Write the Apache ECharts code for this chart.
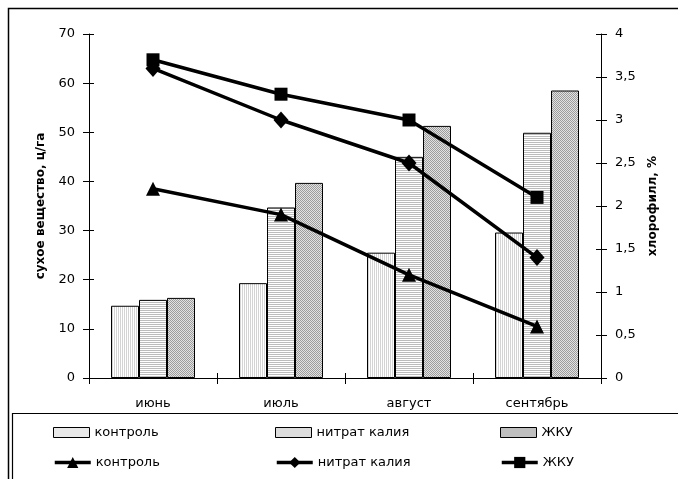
<!DOCTYPE html>
<html>
<head>
<meta charset="utf-8">
<script src="https://cdn.jsdelivr.net/npm/echarts@6/dist/echarts.min.js"></script>
<style>
  html, body { margin: 0; padding: 0; background: #fff; }
  #chart { width: 678px; height: 479px; }
</style>
</head>
<body>
<div id="chart"></div>
<script>
// Months
const months = ['июнь', 'июль', 'август', 'сентябрь'];

// Dry matter, c/ha (bars, left axis)
const dryControl = [14.7, 19.3, 25.5, 29.6];
const dryNitrate = [15.9, 34.7, 45.0, 49.9];
const dryZhku    = [16.3, 39.7, 51.3, 58.5];

// Chlorophyll, % (lines, right axis)
const chlControl = [2.2, 1.9, 1.2, 0.6];
const chlNitrate = [3.6, 3.0, 2.5, 1.4];
const chlZhku    = [3.7, 3.3, 3.0, 2.1];

// Axis ranges
const leftTicks = { min: 0, max: 70, interval: 10 };
const rightTicks = { min: 0, max: 4, interval: 0.5 };

const FONT = 'DejaVu Sans';

// Small repeating fills for the bars
function pattern(w, h, draw) {
  const c = document.createElement('canvas');
  c.width = w; c.height = h;
  const ctx = c.getContext('2d');
  ctx.fillStyle = '#ffffff';
  ctx.fillRect(0, 0, w, h);
  draw(ctx);
  return { image: c, repeat: 'repeat' };
}
const fillControl = pattern(2, 2, ctx => {
  ctx.fillStyle = '#d4d4d4';
  ctx.fillRect(0, 0, 1, 2);
});
const fillNitrate = pattern(2, 2, ctx => {
  ctx.fillStyle = '#bcbcbc';
  ctx.fillRect(0, 0, 2, 1);
});
const fillZhku = pattern(2, 2, ctx => {
  ctx.fillStyle = '#e2e2e2';
  ctx.fillRect(0, 0, 2, 2);
  ctx.fillStyle = '#9c9c9c';
  ctx.fillRect(0, 0, 1, 1);
  ctx.fillRect(1, 1, 1, 1);
});

function barSeries(name, data, fill) {
  return {
    name, type: 'bar', data, xAxisIndex: 0, yAxisIndex: 0,
    barWidth: 28, barGap: '0%',
    itemStyle: { color: fill, borderColor: '#000', borderWidth: 1 },
    emphasis: { disabled: true }
  };
}
function lineSeries(name, data, symbol, size) {
  return {
    name, type: 'line', data, xAxisIndex: 0, yAxisIndex: 1,
    symbol, symbolSize: size, z: 5,
    lineStyle: { color: '#000', width: 3.5 },
    itemStyle: { color: '#000', borderColor: '#000', borderWidth: 0 },
    emphasis: { disabled: true }
  };
}

// Separate legend boxes so the columns line up
function legendAt(name, left, top, item, h) {
  return {
    data: [Object.assign({ name }, item)], left, top, orient: 'horizontal',
    itemWidth: 36, itemHeight: h, itemGap: 0,
    selectedMode: false,
    lineStyle: { width: 3.5 },
    textStyle: { fontFamily: FONT, fontSize: 13, color: '#000' },
    padding: 0
  };
}

const axisFont = { fontFamily: FONT, fontSize: 13, color: '#000' };
const axisLine = { show: true, lineStyle: { color: '#000', width: 1 } };
const barIcon = fill => ({ icon: 'rect', itemStyle: { color: fill, borderColor: '#000', borderWidth: 1 } });

const chart = echarts.init(document.getElementById('chart'), null, { renderer: 'canvas' });
chart.setOption({
  backgroundColor: '#fff',
  animation: false,
  grid: { left: 89, right: 77, top: 34, bottom: 101 },
  legend: [
    legendAt('контроль', 53, 426, barIcon(fillControl), 10),
    legendAt('нитрат калия', 275, 426, barIcon(fillNitrate), 10),
    legendAt('ЖКУ', 500, 426, barIcon(fillZhku), 10),
    legendAt('контроль ', 53, 456, {}, 14),
    legendAt('нитрат калия ', 275, 456, {}, 14),
    legendAt('ЖКУ ', 500, 456, {}, 14)
  ],
  xAxis: [
    {
      type: 'category', data: months, position: 'bottom', boundaryGap: true,
      axisLine,
      axisTick: { show: true, length: 6, lineStyle: { color: '#000' } },
      axisLabel: { ...axisFont, margin: 19 },
      splitLine: { show: false }
    },
    {
      type: 'category', data: months, position: 'bottom', boundaryGap: true,
      axisLine: { show: false },
      axisTick: { show: true, inside: true, length: 5, lineStyle: { color: '#000' } },
      axisLabel: { show: false },
      splitLine: { show: false }
    }
  ],
  yAxis: [
    {
      type: 'value', position: 'left', ...leftTicks,
      name: 'сухое вещество, ц/га', nameLocation: 'middle', nameGap: 42,
      nameTextStyle: { fontFamily: FONT, fontSize: 12, fontWeight: 'bold', color: '#000' },
      axisLine,
      axisTick: { show: true, length: 6, lineStyle: { color: '#000' } },
      axisLabel: { ...axisFont, margin: 14 },
      splitLine: { show: false }
    },
    {
      type: 'value', position: 'right', ...rightTicks,
      name: 'хлорофилл, %', nameLocation: 'middle', nameGap: 32,
      nameTextStyle: { fontFamily: FONT, fontSize: 12, fontWeight: 'bold', color: '#000' },
      axisLine,
      axisTick: { show: true, length: 6, lineStyle: { color: '#000' } },
      axisLabel: { ...axisFont, margin: 14, formatter: v => String(v).replace('.', ',') },
      splitLine: { show: false }
    },
    {
      type: 'value', position: 'left', ...leftTicks,
      axisLine: { show: false },
      axisTick: { show: true, inside: true, length: 5, lineStyle: { color: '#000' } },
      axisLabel: { show: false }, splitLine: { show: false }
    },
    {
      type: 'value', position: 'right', ...rightTicks,
      axisLine: { show: false },
      axisTick: { show: true, inside: true, length: 5, lineStyle: { color: '#000' } },
      axisLabel: { show: false }, splitLine: { show: false }
    }
  ],
  series: [
    barSeries('контроль', dryControl, fillControl),
    barSeries('нитрат калия', dryNitrate, fillNitrate),
    barSeries('ЖКУ', dryZhku, fillZhku),
    lineSeries('контроль ', chlControl, 'triangle', 14),
    lineSeries('нитрат калия ', chlNitrate, 'diamond', [15, 17]),
    lineSeries('ЖКУ ', chlZhku, 'rect', 13)
  ],
  graphic: [
    {
      type: 'rect', silent: true, z: 100,
      shape: { x: 8.5, y: 8.5, width: 700, height: 500 },
      style: { fill: null, stroke: '#000', lineWidth: 1.5 }
    },
    {
      type: 'rect', silent: true, z: 100,
      shape: { x: 12.5, y: 413.5, width: 700, height: 100 },
      style: { fill: null, stroke: '#000', lineWidth: 1.2 }
    }
  ]
});
</script>
</body>
</html>
